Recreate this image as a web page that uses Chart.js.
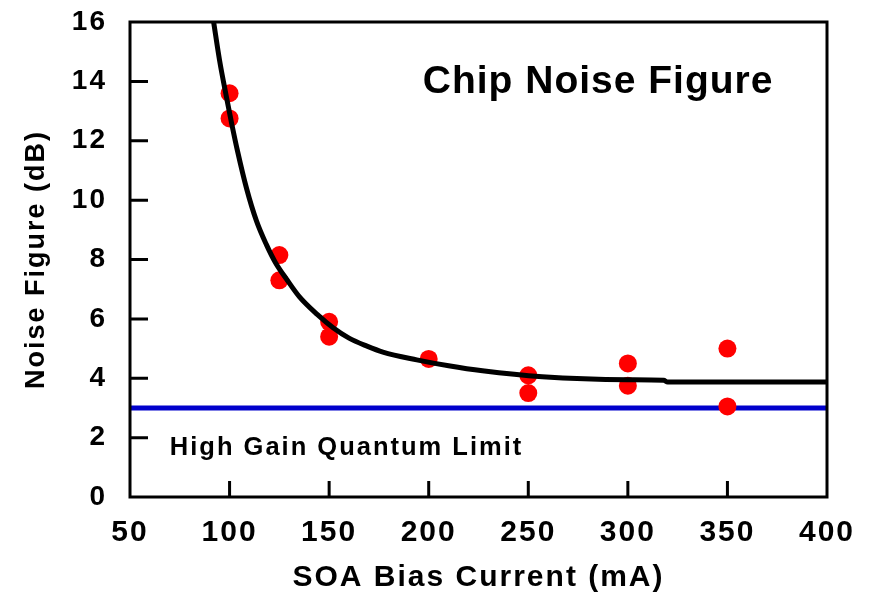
<!DOCTYPE html>
<html>
<head>
<meta charset="utf-8">
<script src="https://cdn.jsdelivr.net/npm/chart.js@4"></script>
<style>
  html, body { margin: 0; padding: 0; background: #fff; }
  #wrap { width: 871px; height: 600px; }
</style>
</head>
<body>
<div id="wrap"><canvas id="chart" width="871" height="600"></canvas></div>
<script>
// measured noise figure points
const biasCurrent = [100, 100, 125, 125, 150, 150, 200, 250, 250, 300, 300, 350, 350];
const noiseFigure = [13.6, 12.75, 8.15, 7.3, 5.9, 5.4, 4.65, 4.1, 3.5, 4.5, 3.75, 5.0, 3.05];

// fitted curve
const fitX = [92, 95, 98.5, 101, 104, 108.5, 113.5, 118.5, 123, 129, 135, 144, 152, 160, 169, 177, 194, 210, 227, 257, 300, 318, 320, 400];
const fitY = [16, 14.7, 13.45, 12.6, 11.65, 10.4, 9.3, 8.5, 7.9, 7.3, 6.75, 6.15, 5.7, 5.35, 5.08, 4.88, 4.62, 4.42, 4.25, 4.05, 3.95, 3.93, 3.87, 3.87];

// quantum limit
const limitX = [50, 400];
const limitY = [3, 3];

const xTicks = [50, 100, 150, 200, 250, 300, 350, 400];
const yTicks = [0, 2, 4, 6, 8, 10, 12, 14, 16];

const FONT = '"Liberation Sans", Arial, sans-serif';

const wideText = {
    id: 'wideText',
    beforeDraw(chart) {
        chart.ctx.letterSpacing = '2px';
    }
};

const frameAndTicks = {
    id: 'frameAndTicks',
    afterDatasetsDraw(chart) {
        const { ctx, chartArea: a, scales } = chart;
        ctx.save();
        ctx.strokeStyle = '#000';
        ctx.lineWidth = 3;
        ctx.strokeRect(a.left, a.top, a.right - a.left, a.bottom - a.top);
        ctx.beginPath();
        xTicks.slice(1, -1).forEach(v => {
            const px = scales.x.getPixelForValue(v);
            ctx.moveTo(px, a.bottom);
            ctx.lineTo(px, a.bottom - 16);
        });
        yTicks.slice(1, -1).forEach(v => {
            const py = scales.y.getPixelForValue(v);
            ctx.moveTo(a.left, py);
            ctx.lineTo(a.left + 18, py);
        });
        ctx.stroke();

        ctx.fillStyle = '#000';
        ctx.textBaseline = 'middle';
        ctx.textAlign = 'left';
        ctx.letterSpacing = '1px';
        ctx.font = 'bold 39px ' + FONT;
        ctx.fillText('Chip Noise Figure', scales.x.getPixelForValue(197), scales.y.getPixelForValue(13.97));
        ctx.letterSpacing = '2px';
        ctx.font = 'bold 25.5px ' + FONT;
        ctx.fillText('High Gain Quantum Limit', scales.x.getPixelForValue(70), scales.y.getPixelForValue(1.65));
        ctx.restore();
    }
};

new Chart(document.getElementById('chart'), {
    type: 'scatter',
    data: {
        datasets: [
            {
                label: 'Quantum limit',
                type: 'line',
                data: limitX.map((x, i) => ({ x: x, y: limitY[i] })),
                borderColor: '#0000cc',
                borderWidth: 5,
                pointRadius: 0,
                order: 3
            },
            {
                label: 'Measured',
                data: biasCurrent.map((x, i) => ({ x: x, y: noiseFigure[i] })),
                backgroundColor: '#ff0000',
                borderWidth: 0,
                pointRadius: 9,
                order: 2
            },
            {
                label: 'Fit',
                type: 'line',
                data: fitX.map((x, i) => ({ x: x, y: fitY[i] })),
                borderColor: '#000',
                borderWidth: 5,
                pointRadius: 0,
                cubicInterpolationMode: 'monotone',
                order: 1
            }
        ]
    },
    options: {
        responsive: false,
        animation: false,
        layout: { padding: { top: 22, right: 44, left: 0, bottom: 0 } },
        plugins: {
            legend: { display: false },
            tooltip: { enabled: false }
        },
        scales: {
            x: {
                type: 'linear',
                min: 50,
                max: 400,
                afterBuildTicks: s => { s.ticks = xTicks.map(v => ({ value: v })); },
                afterFit: s => { s.height = 103; s.paddingLeft = 0; s.paddingRight = 0; },
                grid: { display: false, drawTicks: false },
                border: { display: false },
                ticks: {
                    color: '#000',
                    padding: 18,
                    font: { family: FONT, size: 30, weight: 'bold' }
                },
                title: {
                    display: true,
                    text: 'SOA Bias Current (mA)',
                    color: '#000',
                    padding: { top: 6 },
                    font: { family: FONT, size: 30, weight: 'bold' }
                }
            },
            y: {
                min: 0,
                max: 16,
                afterBuildTicks: s => { s.ticks = yTicks.map(v => ({ value: v })); },
                afterFit: s => { s.width = 130; s.paddingTop = 0; s.paddingBottom = 0; },
                grid: { display: false, drawTicks: false },
                border: { display: false },
                ticks: {
                    color: '#000',
                    padding: 23,
                    font: { family: FONT, size: 28, weight: 'bold' }
                },
                title: {
                    display: true,
                    text: 'Noise Figure (dB)',
                    color: '#000',
                    padding: { top: 20 },
                    font: { family: FONT, size: 27, weight: 'bold' }
                }
            }
        }
    },
    plugins: [wideText, frameAndTicks]
});
</script>
</body>
</html>
